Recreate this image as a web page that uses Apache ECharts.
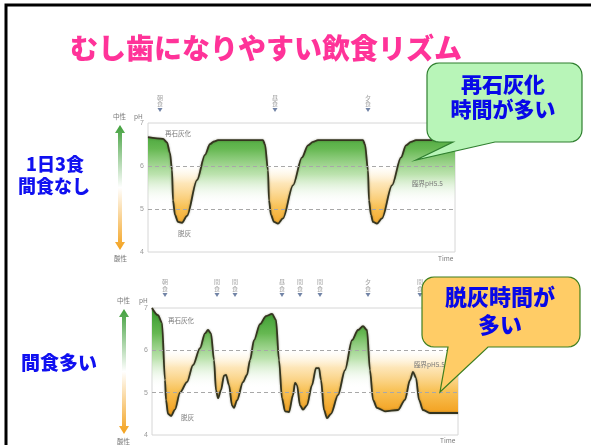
<!DOCTYPE html>
<html>
<head>
<meta charset="utf-8">
<script src="https://cdn.jsdelivr.net/npm/echarts@6/dist/echarts.min.js"></script>
<style>
html,body{margin:0;padding:0;background:#fff;}
#c{width:591px;height:445px;}
</style>
</head>
<body>
<div id="c"></div>
<script>
// ---- data ----
const topTime = [0, 15, 19, 22, 24, 25, 27, 30, 34, 39, 49, 57, 62, 66, 70, 115, 117, 120, 121, 123, 126, 130, 135, 145, 154, 160, 165, 170, 215, 217, 220, 221, 223, 225, 229, 234, 244, 253, 258, 263, 268, 307];
const topPH = [6.67, 6.63, 6.55, 6.3, 5.91, 5.2, 4.86, 4.70, 4.68, 4.84, 5.67, 6.26, 6.51, 6.57, 6.6, 6.6, 6.5, 5.9, 5.2, 4.86, 4.70, 4.66, 4.78, 5.55, 6.2, 6.48, 6.56, 6.6, 6.6, 6.5, 5.9, 5.2, 4.86, 4.70, 4.66, 4.78, 5.55, 6.2, 6.48, 6.56, 6.6, 6.6];
const bottomTime = [0, 6, 10, 13, 14, 16, 19, 23, 28, 35, 41, 48, 53, 56, 59, 62, 64, 66, 69, 72, 74, 77, 80, 82, 85, 91, 95, 98, 102, 108, 114, 120, 124, 127, 130, 133, 137, 141, 143, 145, 148, 151, 155, 160, 164, 167, 169, 172, 175, 179, 186, 193, 200, 206, 211, 215, 218, 221, 225, 233, 246, 253, 258, 261, 264, 267, 271, 278, 306];
const bottomPH = [7.0, 6.83, 6.65, 5.3, 4.83, 4.5, 4.45, 4.6, 5.0, 5.25, 5.65, 6.05, 6.4, 6.48, 6.4, 5.77, 5.06, 4.87, 5.06, 5.4, 5.42, 5.18, 4.7, 4.64, 4.82, 5.25, 5.42, 5.77, 6.24, 6.62, 6.81, 6.86, 6.72, 5.77, 4.87, 4.56, 4.54, 4.94, 5.23, 5.18, 4.7, 4.6, 4.7, 5.18, 5.58, 5.58, 5.3, 4.59, 4.4, 4.5, 4.94, 5.53, 6.24, 6.48, 6.57, 6.48, 5.53, 4.83, 4.64, 4.56, 4.59, 4.83, 5.3, 5.49, 5.35, 4.83, 4.59, 4.52, 4.52];
const topMealTimes = [12, 127, 220];
const topMealNames = ['朝食', '昼食', '夕食'];
const bottomMealTimes = [13, 65, 83, 130, 148, 168, 216, 268];
const bottomMealNames = ['朝食', '間食', '間食', '昼食', '間食', '間食', '夕食', '間食'];
const phTicks = [4, 5, 6, 7];
const criticalLines = [5, 6];

// ---- layout ----
const G = [
  {left: 148, top: 123, width: 307, height: 129, xmax: 307},
  {left: 152, top: 308, width: 306, height: 127, xmax: 306}
];
const yOf = (g, p) => g.top + (7 - p) / 3 * g.height;

function greenGrad(g) {
  return new echarts.graphic.LinearGradient(0, yOf(g, 7), 0, yOf(g, 5), [
    {offset: 0, color: '#34982c'},
    {offset: 0.3, color: '#66b852'},
    {offset: 0.6, color: 'rgba(172,220,155,0.8)'},
    {offset: 0.95, color: 'rgba(255,255,255,0)'},
    {offset: 1, color: 'rgba(255,255,255,0)'}
  ], true);
}
function orangeGrad(g) {
  return new echarts.graphic.LinearGradient(0, yOf(g, 6), 0, yOf(g, 4.4), [
    {offset: 0, color: 'rgba(255,245,220,0)'},
    {offset: 0.25, color: 'rgba(253,226,172,0.85)'},
    {offset: 0.6, color: '#f8c155'},
    {offset: 1, color: '#f29a14'}
  ], true);
}

function seriesFor(idx, times, ph, mealT, mealN, mealY) {
  const g = G[idx];
  const data = times.map((t, i) => [t, ph[i]]);
  return [
    {type: 'line', xAxisIndex: idx, yAxisIndex: idx, data, smooth: 0.3, smoothMonotone: 'x',
      symbol: 'none', lineStyle: {opacity: 0}, areaStyle: {origin: 5, color: greenGrad(g), opacity: 1}, z: 2, silent: true},
    {type: 'line', xAxisIndex: idx, yAxisIndex: idx, data, smooth: 0.3, smoothMonotone: 'x',
      symbol: 'none', lineStyle: {opacity: 0}, areaStyle: {origin: 6, color: orangeGrad(g), opacity: 1}, z: 2, silent: true},
    {type: 'line', xAxisIndex: idx, yAxisIndex: idx, data, smooth: 0.3, smoothMonotone: 'x',
      symbol: 'none', z: 4, silent: true,
      lineStyle: {color: '#34341f', width: 1.8, shadowBlur: 2, shadowColor: 'rgba(60,60,30,0.45)'},
      markLine: {silent: true, symbol: 'none', label: {show: false},
        lineStyle: {color: '#a8a8a8', type: [4, 3], width: 1},
        data: criticalLines.map(v => ({yAxis: v}))}},
    {type: 'scatter', xAxisIndex: idx, yAxisIndex: idx, clip: false, z: 5, silent: true,
      data: mealT.map((t, i) => [t, mealY, mealN[i]]),
      symbol: 'path://M0,0 L10,0 L5,8 Z', symbolSize: [5, 4],
      itemStyle: {color: '#4d6490'},
      label: {show: true, position: 'top', distance: 1, fontSize: 6, lineHeight: 6.5, color: '#8a8a8a',
        fontFamily: 'Noto Sans CJK JP',
        formatter: p => p.data[2].split('').join('\n')}}
  ];
}

function arrowPoly(x, y1, y2) {
  return [[x, y1], [x + 5, y1 + 8], [x + 2, y1 + 8], [x + 2, y2 - 8], [x + 5, y2 - 8], [x, y2],
          [x - 5, y2 - 8], [x - 2, y2 - 8], [x - 2, y1 + 8], [x - 5, y1 + 8]];
}
const arrowFill = () => new echarts.graphic.LinearGradient(0, 0, 0, 1, [
  {offset: 0, color: '#3f9f3a'}, {offset: 0.5, color: '#ffffff'}, {offset: 1, color: '#f3a11c'}]);

// rounded box with a tail on the bottom edge (tail: [baseRightX, tipX, tipY, baseLeftX])
function calloutPoints(x1, y1, x2, y2, r, tail) {
  const pts = [];
  const arc = (cx, cy, a0, a1) => {
    for (let k = 0; k <= 6; k++) {
      const a = a0 + (a1 - a0) * k / 6;
      pts.push([cx + r * Math.cos(a), cy + r * Math.sin(a)]);
    }
  };
  arc(x1 + r, y1 + r, Math.PI, 1.5 * Math.PI);
  arc(x2 - r, y1 + r, 1.5 * Math.PI, 2 * Math.PI);
  arc(x2 - r, y2 - r, 0, 0.5 * Math.PI);
  pts.push([tail[0], y2], [tail[1], tail[2]], [tail[3], y2]);
  arc(x1 + r, y2 - r, 0.5 * Math.PI, Math.PI);
  return pts;
}

const small = (text, x, y) => ({type: 'text', x, y, z: 50, silent: true,
  style: {text, fontSize: 6.5, fill: '#7a7a7a', fontFamily: 'Noto Sans CJK JP', align: 'left', verticalAlign: 'middle'}});

const jp = 'Noto Sans CJK JP';
const big = (text, x, y, size, color) => ({type: 'text', x, y, z: 120, silent: true,
  style: {text, fontSize: size, fontWeight: 900, fill: color, fontFamily: jp, align: 'center', verticalAlign: 'middle'}});

const chart = echarts.init(document.getElementById('c'), null, {renderer: 'canvas'});
chart.setOption({
  animation: false,
  backgroundColor: '#ffffff',
  grid: G.map(g => ({left: g.left, top: g.top, width: g.width, height: g.height, show: true,
    borderColor: '#d6d6d6', borderWidth: 1, backgroundColor: 'transparent'})),
  xAxis: G.map((g, i) => ({gridIndex: i, type: 'value', min: 0, max: g.xmax, show: false})),
  yAxis: G.map((g, i) => ({gridIndex: i, type: 'value', min: phTicks[0], max: phTicks[phTicks.length - 1], interval: 1,
    axisLine: {show: false}, axisTick: {show: false}, splitLine: {show: false},
    axisLabel: {fontSize: 7, color: '#9a9a9a', margin: 4}})),
  series: [
    ...seriesFor(0, topTime, topPH, topMealTimes, topMealNames, 7.3),
    ...seriesFor(1, bottomTime, bottomPH, bottomMealTimes, bottomMealNames, 7.31)
  ],
  graphic: [
    {type: 'rect', shape: {x: 6, y: 5, width: 620, height: 470}, style: {fill: 'none', stroke: '#000', lineWidth: 3}, z: 200, silent: true},
    big('むし歯になりやすい飲食リズム', 266, 48, 28, '#ff3399'),
    big('1日3食', 55, 164, 18, '#1010f0'),
    big('間食なし', 54, 186, 18, '#1010f0'),
    big('間食多い', 59, 363, 19, '#1010f0'),
    {type: 'polygon', shape: {points: arrowPoly(120, 125, 250)}, style: {fill: arrowFill()}, z: 50, silent: true},
    {type: 'polygon', shape: {points: arrowPoly(124, 309, 434)}, style: {fill: arrowFill()}, z: 50, silent: true},
    small('中性', 113, 117), small('pH', 134, 117),
    small('酸性', 114, 259),
    small('中性', 117, 301), small('pH', 139, 301),
    small('酸性', 117, 442),
    small('再石灰化', 165, 134), small('脱灰', 178, 234), small('臨界pH5.5', 412, 184),
    small('Time', 438, 259),
    small('再石灰化', 168, 321), small('脱灰', 181, 418), small('臨界pH5.5', 414, 365),
    small('Time', 440, 441),
    {type: 'polygon', z: 110, silent: true,
      shape: {points: calloutPoints(427, 63, 582, 142, 12, [495, 416, 160, 453])},
      style: {fill: '#b8f5b8', stroke: '#2f7f2f', lineWidth: 1.2}},
    big('再石灰化', 503, 84, 21, '#0808e8'),
    big('時間が多い', 503, 109, 21, '#0808e8'),
    {type: 'polygon', z: 110, silent: true,
      shape: {points: calloutPoints(422, 277, 580, 347, 12, [488, 440, 392, 448])},
      style: {fill: '#ffcc66', stroke: '#3f7f1f', lineWidth: 1.2}},
    big('脱灰時間が', 500, 297, 22, '#0808e8'),
    big('多い', 500, 325, 22, '#0808e8')
  ]
});
</script>
</body>
</html>
